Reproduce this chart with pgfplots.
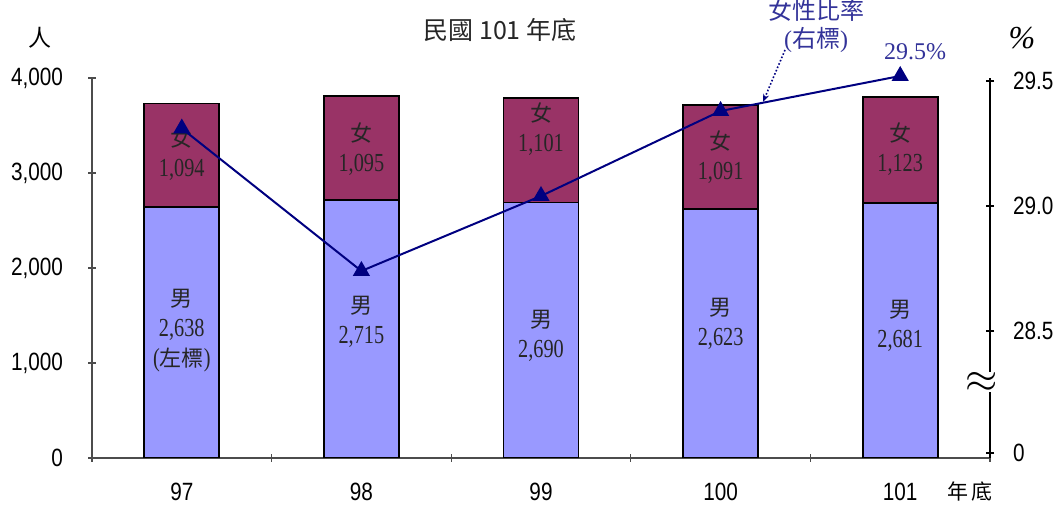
\documentclass[border=0pt]{standalone}
\usepackage{fontspec}
\setmainfont{Liberation Sans}
\newfontfamily\cjk{Noto Sans CJK TC}
\newfontfamily\numsans[FakeStretch=0.83]{Liberation Sans}
\newfontfamily\numserif[FakeStretch=0.78]{Liberation Serif}
\newfontfamily\serif{Liberation Serif}
\usepackage{pgfplots}
\pgfplotsset{compat=1.18}
\usetikzlibrary{arrows.meta}

\definecolor{male}{HTML}{9999FF}
\definecolor{female}{HTML}{993366}
\definecolor{linec}{HTML}{000080}
\definecolor{notec}{HTML}{333399}

\tikzset{lbl/.style={align=center, font=\fontsize{11}{15}\selectfont, text=black!85}}
\newcommand\nm[1]{{\numserif\fontsize{13}{15}\selectfont #1}}

\begin{document}
\begin{tikzpicture}
% left axis: persons (stacked bars)
\begin{axis}[
  scale only axis, width=449pt, height=190pt,
  at={(0,0)}, anchor=south west,
  xmin=-0.5, xmax=4.5,
  ymin=0, ymax=4000,
  tick align=inside, major tick length=4pt,
  tick label style={font=\numsans\fontsize{12.5}{14}\selectfont},
  axis x line=bottom, axis y line=left,
  axis line style={-, black!70, line width=0.6pt},
  tick style={black!70, line width=0.6pt},
  ybar stacked, bar width=37.5pt,
  xtick={-0.5,0.5,1.5,2.5,3.5,4.5},
  x tick label as interval,
  xticklabels={97,98,99,100,101},
  xticklabel style={yshift=-7pt},
  ytick={0,1000,2000,3000,4000},
  yticklabels={0,{1,000},{2,000},{3,000},{4,000}},
  yticklabel style={xshift=-9pt},
]
\addplot[fill=male, draw=black, line width=0.9pt]
  coordinates {(0,2638) (1,2715) (2,2690) (3,2623) (4,2681)};
\addplot[fill=female, draw=black, line width=0.9pt]
  coordinates {(0,1094) (1,1095) (2,1101) (3,1091) (4,1123)};

% label anchors (text is set after the axes, above the bars)
\coordinate (f0) at (axis cs:0,3200);
\coordinate (f1) at (axis cs:1,3253);
\coordinate (f2) at (axis cs:2,3463);
\coordinate (f3) at (axis cs:3,3168);
\coordinate (f4) at (axis cs:4,3253);
\coordinate (m0) at (axis cs:0,1337);
\coordinate (m1) at (axis cs:1,1432);
\coordinate (m2) at (axis cs:2,1284);
\coordinate (m3) at (axis cs:3,1410);
\coordinate (m4) at (axis cs:4,1389);
\end{axis}

% bar labels
\node[lbl] at (f0) {{\cjk 女}\\\nm{1,094}};
\node[lbl] at (f1) {{\cjk 女}\\\nm{1,095}};
\node[lbl] at (f2) {{\cjk 女}\\\nm{1,101}};
\node[lbl] at (f3) {{\cjk 女}\\\nm{1,091}};
\node[lbl] at (f4) {{\cjk 女}\\\nm{1,123}};
\node[lbl] at (m0) {{\cjk 男}\\\nm{2,638}\\\nm{(}{\cjk 左標}\nm{)}};
\node[lbl] at (m1) {{\cjk 男}\\\nm{2,715}};
\node[lbl] at (m2) {{\cjk 男}\\\nm{2,690}};
\node[lbl] at (m3) {{\cjk 男}\\\nm{2,623}};
\node[lbl] at (m4) {{\cjk 男}\\\nm{2,681}};

% right axis: female share (%)
\begin{axis}[
  scale only axis, width=449pt, height=190pt,
  at={(0,0)}, anchor=south west,
  xmin=-0.5, xmax=4.5,
  ymin=27.992, ymax=29.512,
  clip=false,
  tick align=inside, major tick length=4pt,
  tick label style={font=\numsans\fontsize{12.5}{14}\selectfont},
  axis y line=right, axis x line=none,
  axis line style={-, black, line width=0.6pt},
  tick style={black, line width=0.6pt},
  ytick={28.012,28.5,29,29.5},
  yticklabels={0,28.5,29.0,29.5},
  yticklabel style={xshift=6pt},
]
\addplot[color=linec, line width=1pt, mark=triangle*, mark size=4pt,
  mark options={fill=linec, draw=linec}]
  coordinates {(0,29.31) (1,28.74) (2,29.04) (3,29.38) (4,29.52)};
\end{axis}

% titles and notes
\node[font=\cjk\fontsize{12.5}{14}\selectfont, text=black!85] at (204pt,214pt) {民國 101 年底};
\node[font=\cjk\fontsize{11.5}{14}\selectfont] at (-26pt,210pt) {人};
\node[font=\serif\itshape\fontsize{16}{16}\selectfont] at (465pt,210pt) {\%};
\node[font=\cjk\fontsize{10.5}{14}\selectfont] at (439pt,-17pt) {年\,底};
\node[font=\cjk\fontsize{12}{14}\selectfont, text=notec] at (362pt,224pt) {女性比率};
\node[font=\fontsize{12}{14}\selectfont, text=notec] at (362pt,209pt) {{\serif(}{\cjk 右標}{\serif)}};
\node[font=\serif\fontsize{12}{14}\selectfont, text=notec] at (411.5pt,203pt) {29.5\%};
\draw[linec, densely dotted, line width=0.8pt, -{Stealth[length=4pt]}] (346.5pt,204pt) -- (335.5pt,178pt);
\node[font=\serif\fontsize{20}{20}\selectfont, fill=white, inner sep=0pt] at (445pt,38pt) {$\approx$};

\pgfresetboundingbox
\path (-46pt,-24pt) rectangle (480.5pt,229pt);
\end{tikzpicture}
\end{document}
